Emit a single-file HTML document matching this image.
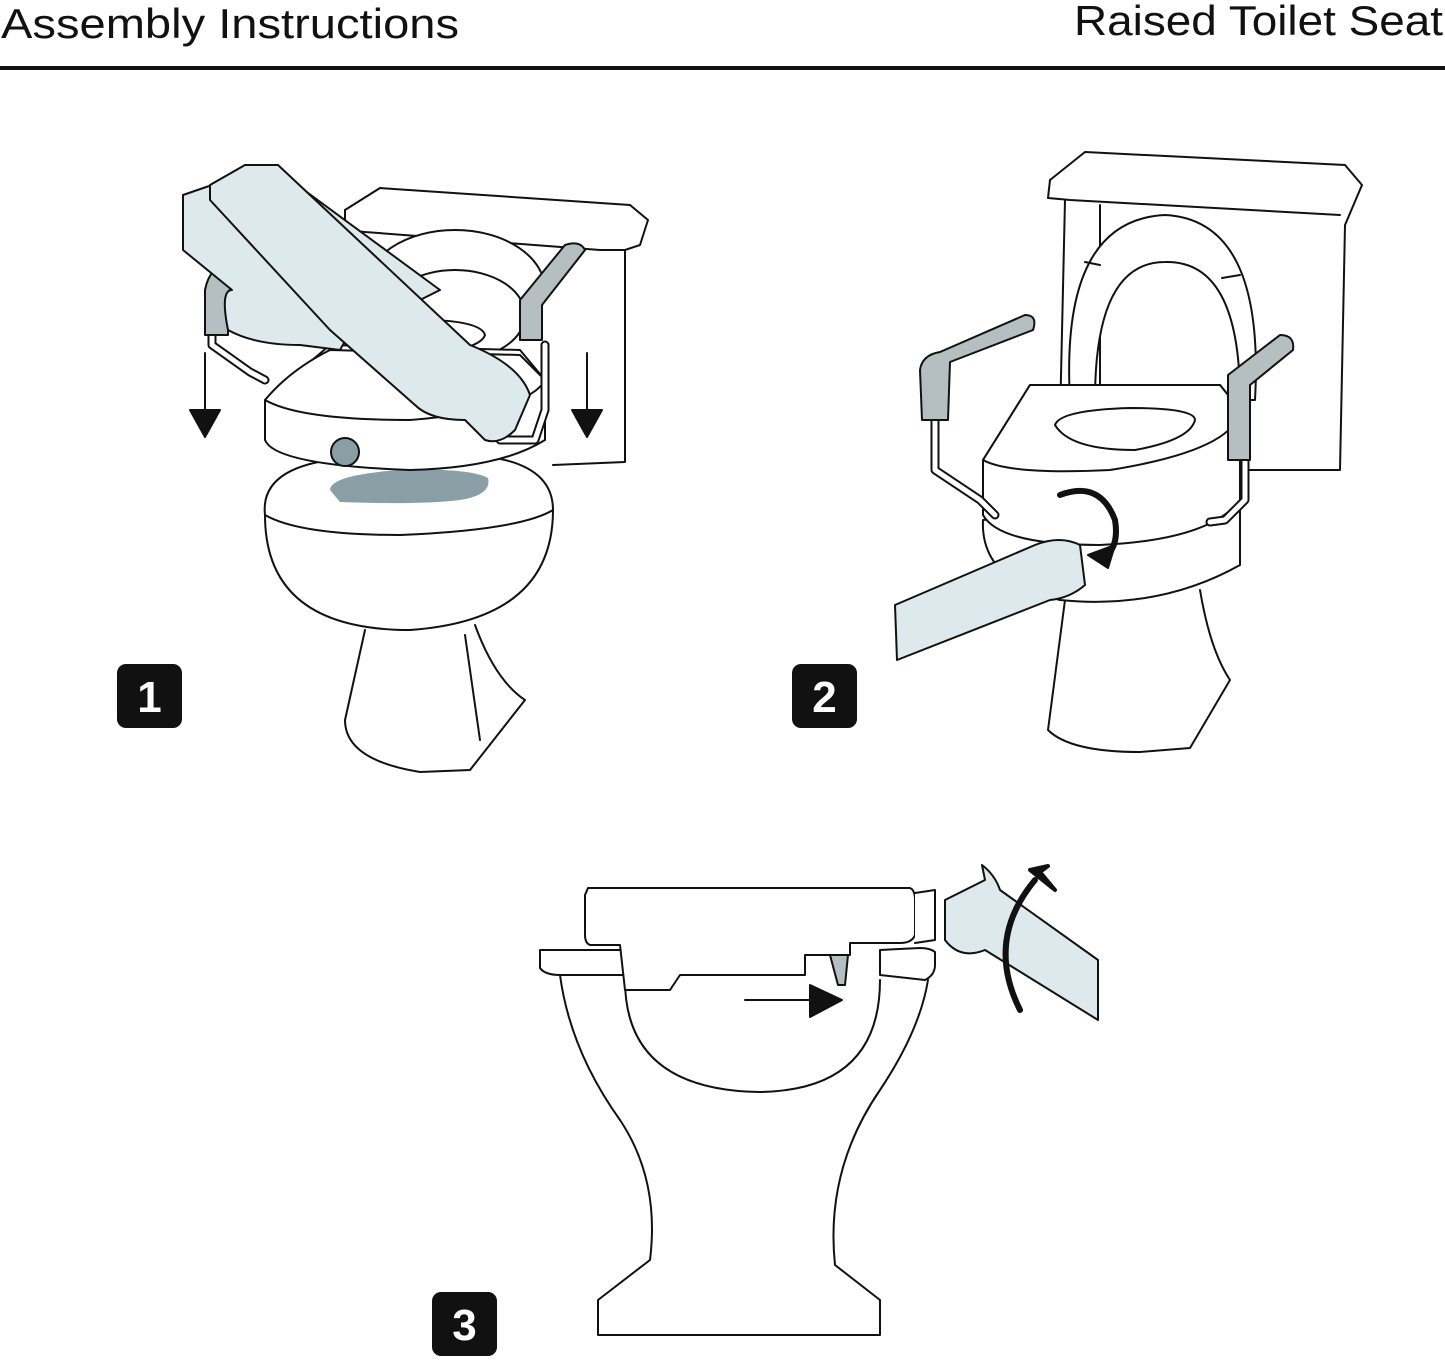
<!DOCTYPE html>
<html><head><meta charset="utf-8"><style>
html,body{margin:0;padding:0;background:#fff;}
svg{display:block}
text{font-family:"Liberation Sans",sans-serif;}
</style></head><body>
<svg width="1445" height="1360" viewBox="0 0 1445 1360" xmlns="http://www.w3.org/2000/svg">
<rect width="1445" height="1360" fill="#fff"/>
<text x="1" y="38" font-size="42" fill="#111" textLength="458" lengthAdjust="spacingAndGlyphs">Assembly Instructions</text>
<text x="1074" y="35" font-size="42" fill="#111" textLength="369" lengthAdjust="spacingAndGlyphs">Raised Toilet Seat</text>
<rect x="0" y="66" width="1445" height="4" fill="#111"/>

<g fill="none" stroke="#111" stroke-width="2" stroke-linejoin="round" stroke-linecap="round">
<!-- ===== Panel 1 ===== -->
<path d="M345 210 L380 188 L630 205 L648 220 L640 245 L625 250 L625 462 L553 465" fill="#fff"/>
<path d="M345 210 L345 230 L365 232 L600 250 L625 250"/>
<ellipse cx="455" cy="290" rx="90" ry="60" fill="#fff"/>
<ellipse cx="455" cy="315" rx="70" ry="45" fill="#fff"/>
<path d="M365 630 L345 720 Q345 760 420 772 L470 770 L525 700 Q495 680 475 625" fill="#fff"/>
<path d="M465 635 L480 740"/>
<path d="M265 515 Q265 630 410 630 Q553 620 553 510 Z" fill="#fff"/>
<path d="M265 515 Q260 470 330 460 L470 455 Q553 460 553 510 Q520 530 400 535 Q300 535 265 515 Z" fill="#fff"/>
<path d="M330 490 Q330 475 400 470 Q470 468 488 478 Q492 495 460 500 Q420 505 340 502 Z" fill="#8a9ea6" stroke="none"/>
<path d="M265 400 L265 440 Q275 465 410 470 Q500 468 545 440 L545 380 L520 350 L330 345 Z" fill="#fff"/>
<path d="M265 400 Q290 370 330 350 L520 355 L545 380 Q530 410 410 420 Q300 420 265 400 Z" fill="#fff"/>
<path d="M345 340 Q350 325 400 320 Q480 318 485 335 Q480 350 420 355 Q360 355 345 340 Z" fill="#fff"/>
<circle cx="345" cy="452" r="14" fill="#8a9ea6"/>
<path d="M212 310 L212 345 L250 372 L265 380" stroke-width="9"/>
<path d="M212 310 L212 345 L250 372 L265 380" stroke="#fff" stroke-width="5"/>
<path d="M205 290 Q210 265 230 262 L285 240 L292 250 L240 280 Q228 285 228 300 L228 335 L205 335 Z" fill="#b5bfc2"/>
<path d="M545 345 L545 410 L535 440 L500 440" stroke-width="9"/>
<path d="M545 345 L545 410 L535 440 L500 440" stroke="#fff" stroke-width="5"/>
<path d="M520 300 L565 245 Q580 240 585 250 L542 305 L542 340 L520 340 Z" fill="#b5bfc2"/>
<path d="M183 195 L270 165 L440 290 L420 300 Q360 310 340 350 L300 345 Q255 345 228 330 Q220 290 232 290 L183 250 Z" fill="#dde9ec"/>
<path d="M210 185 L245 165 L278 165 L470 345 Q520 365 530 395 L515 430 Q500 445 485 440 L465 420 Q430 420 415 405 L330 330 L210 200 Z" fill="#dde9ec"/>
<path d="M205 353 L205 412"/>
<path d="M190 410 L220 410 L205 437 Z" fill="#111"/>
<path d="M587 353 L587 412"/>
<path d="M572 410 L602 410 L587 437 Z" fill="#111"/>

<!-- ===== Panel 2 ===== -->
<path d="M1050 180 L1085 152 L1345 165 L1362 185 L1345 225 L1340 470 L1195 470" fill="#fff"/>
<path d="M1050 180 L1048 198 L1070 200 L1340 215"/>
<path d="M1065 200 L1060 420 M1100 205 L1100 420"/>
<path d="M1070 400 Q1060 220 1165 215 Q1265 220 1255 400 L1240 400 Q1240 260 1165 262 Q1095 262 1095 400 Z" fill="#fff"/>
<path d="M1085 262 L1100 265 M1222 278 L1240 275"/>
<path d="M1065 600 L1048 730 Q1070 752 1140 752 L1190 748 L1230 680 Q1210 650 1200 590" fill="#fff"/>
<path d="M983 520 Q980 580 1060 600 Q1160 610 1240 565 L1240 490 Z" fill="#fff"/>
<path d="M983 460 L983 515 Q1000 545 1100 545 Q1210 540 1240 500 L1240 410 L1220 385 L1030 385 Z" fill="#fff"/>
<path d="M983 460 L1030 385 L1220 385 L1240 410 Q1235 450 1110 470 Q1010 475 983 460 Z" fill="#fff"/>
<path d="M1055 425 Q1060 410 1130 408 Q1195 408 1195 420 Q1190 440 1135 450 Q1070 450 1055 425 Z" fill="#fff"/>
<path d="M935 420 L935 470 L980 500 L995 515" stroke-width="9"/>
<path d="M935 420 L935 470 L980 500 L995 515" stroke="#fff" stroke-width="5"/>
<path d="M920 370 Q922 355 940 352 L1025 315 Q1038 315 1033 330 L950 362 L948 420 L922 420 Z" fill="#b5bfc2"/>
<path d="M1245 460 L1245 500 L1225 520 L1210 522" stroke-width="9"/>
<path d="M1245 460 L1245 500 L1225 520 L1210 522" stroke="#fff" stroke-width="5"/>
<path d="M1228 375 L1280 335 Q1295 335 1293 350 L1250 385 L1250 460 L1228 460 Z" fill="#b5bfc2"/>
<path d="M895 605 L1035 545 Q1060 535 1080 545 L1085 585 Q1070 598 1050 600 L897 660 Z" fill="#dde9ec"/>
<path d="M1060 495 Q1100 480 1115 520 Q1120 550 1100 560" stroke-width="6"/>
<path d="M1088 555 L1108 568 L1115 545 Z" fill="#111"/>

<!-- ===== Panel 3 ===== -->
<path d="M540 950 L540 968 Q545 975 560 975 L630 975 L630 950 Z" fill="#fff"/>
<path d="M880 950 L880 975 L925 980 Q935 975 935 965 L935 952 Q930 948 920 948 Z" fill="#fff"/>
<path d="M560 975 Q570 1050 620 1120 Q660 1180 650 1260 L598 1300 L598 1335 L880 1335 L880 1300 L835 1265 Q825 1170 880 1090 Q920 1030 928 980"/>
<path d="M625 980 Q625 1090 760 1092 Q880 1090 880 980"/>
<path d="M588 888 L910 888 Q915 890 915 900 L915 935 Q912 943 900 943 L850 943 L850 955 L805 955 L805 975 L680 975 L670 990 L625 990 L620 945 L590 945 Q585 943 585 935 L585 895 Z" fill="#fff"/>
<path d="M915 893 L935 890 L935 940 L915 943" fill="#fff"/>
<path d="M830 955 L848 955 L845 985 L838 985 Z" fill="#b5bfc2"/>
<path d="M745 1000 L815 1000"/>
<path d="M810 985 L842 1000 L810 1017 Z" fill="#111"/>
<path d="M945 900 L985 880 L982 865 Q995 875 1000 890 L1098 960 L1098 1020 L985 950 Q960 960 945 940 Z" fill="#dde9ec"/>
<path d="M1020 1010 Q985 940 1035 880" stroke-width="6"/>
<path d="M1030 870 L1055 890 L1040 872 L1048 866 Z" fill="#111" stroke-width="4"/>
</g>

<rect x="117" y="664" width="65" height="64" rx="9" fill="#111"/>
<text x="149.5" y="712" font-size="44" font-weight="bold" fill="#fff" text-anchor="middle">1</text>
<rect x="792" y="664" width="65" height="64" rx="9" fill="#111"/>
<text x="824.5" y="712" font-size="44" font-weight="bold" fill="#fff" text-anchor="middle">2</text>
<rect x="432" y="1292" width="65" height="64" rx="9" fill="#111"/>
<text x="464.5" y="1340" font-size="44" font-weight="bold" fill="#fff" text-anchor="middle">3</text>
</svg>
</body></html>
